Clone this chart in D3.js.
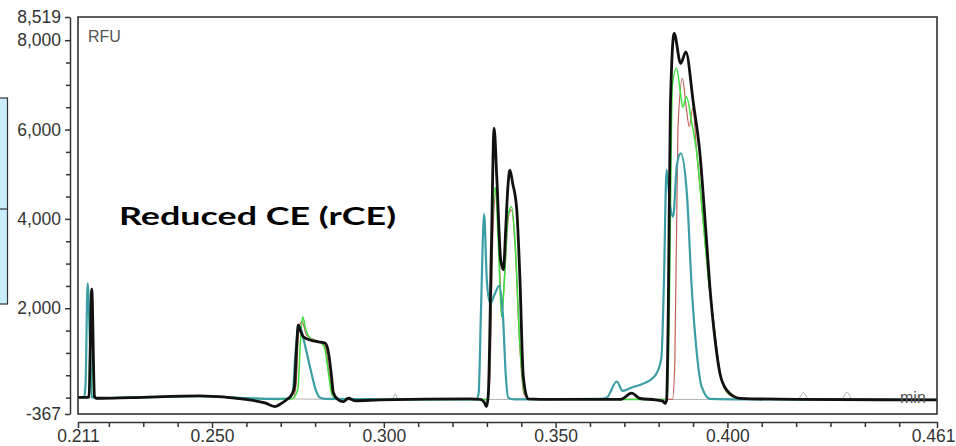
<!DOCTYPE html>
<html>
<head>
<meta charset="utf-8">
<script src="https://cdn.jsdelivr.net/npm/d3@7"></script>
<style>
  html, body { margin: 0; padding: 0; background: #fff; }
  svg { display: block; }
</style>
</head>
<body>
<svg id="chart" width="956" height="446"></svg>
<script>
// ---- data (time in min, signal in RFU) ----
const xDomain = [0.211, 0.461];
const yDomain = [-367, 8519];
const xMajorTicks = [0.211, 0.25, 0.30, 0.35, 0.40, 0.461];
const xMinorTicks = [0.22, 0.23, 0.24, 0.26, 0.27, 0.28, 0.29, 0.31, 0.32, 0.33, 0.34, 0.36, 0.37, 0.38, 0.39, 0.41, 0.42, 0.43, 0.44, 0.45];
const yMajorTicks = [8519, 8000, 6000, 4000, 2000, -367];
const yMinorTicks = [7500, 7000, 6500, 5500, 5000, 4500, 3500, 3000, 2500, 1500, 1000, 500, 0];
const xLabels = ["0.211", "0.250", "0.300", "0.350", "0.400", "0.461"];
const yLabels = ["8,519", "8,000", "6,000", "4,000", "2,000", "-367"];

const graySeries = [
  [0.211, 0], [0.2264, 0], [0.2465, 30], [0.2599, -20], [0.2989, -40], [0.3025, -40], [0.3033, 90], [0.3041, -40],
  [0.4205, -40], [0.4221, 110], [0.4237, -40], [0.4332, -40], [0.4348, 120], [0.4364, -40], [0.461, -50]
];

const redSeries = [
  [0.211, 5], [0.2135, 5], [0.2142, 30], [0.2149, 2350], [0.2157, 40], [0.2163, -10], [0.2264, 5], [0.2465, 35],
  [0.2599, -15], [0.2683, -40], [0.2735, -20], [0.2745, 300], [0.2752, 1500], [0.2762, 1700], [0.2775, 1400],
  [0.2810, 1250], [0.2829, 1150], [0.2842, 500], [0.2852, 50], [0.2865, -30], [0.2989, -40], [0.3280, -40],
  [0.3302, -40], [0.3308, 300], [0.3318, 3800], [0.3327, 4620], [0.3336, 3200], [0.3343, 1810], [0.3352, 2800],
  [0.3364, 4100], [0.3372, 4200], [0.3382, 3400], [0.3396, 1100], [0.3408, 80], [0.3422, -30], [0.3630, -40],
  [0.3840, -40], [0.3847, 800], [0.3856, 6000], [0.3869, 7146], [0.3880, 6500], [0.3889, 6064], [0.3899, 6473],
  [0.3911, 5465], [0.3930, 3900], [0.3948, 2400], [0.3960, 1700], [0.3977, 650], [0.3992, 200], [0.4012, 30],
  [0.4040, -30], [0.461, -50]
];

const greenSeries = [
  [0.211, 5], [0.2135, 5], [0.2141, 30], [0.2148, 2380], [0.2156, 40], [0.2162, -10], [0.2264, 10], [0.2465, 35],
  [0.2599, -10], [0.2683, -40], [0.2735, -20], [0.2750, 200], [0.2757, 1200], [0.2764, 1810], [0.2772, 1550],
  [0.2790, 1300], [0.2809, 1260], [0.2826, 1150], [0.2838, 600], [0.2848, 100], [0.2860, -30], [0.2989, -40],
  [0.3280, -40], [0.3300, -50], [0.3306, 300], [0.3316, 4000], [0.3325, 4700], [0.3333, 3500], [0.3343, 1800],
  [0.3350, 2500], [0.3362, 4100], [0.3372, 4270], [0.3382, 3500], [0.3396, 1200], [0.3410, 100], [0.3425, -30],
  [0.3630, -40], [0.3810, -40], [0.3825, -60], [0.3830, 1500], [0.3840, 7000], [0.3852, 7370], [0.3862, 6900],
  [0.3870, 6500], [0.3881, 6735], [0.3895, 6200], [0.3911, 5465], [0.3930, 3900], [0.3948, 2400], [0.3959, 1740],
  [0.3975, 700], [0.3990, 250], [0.4010, 50], [0.4040, -30], [0.461, -50]
];

const tealSeries = [
  [0.211, 10], [0.2128, 10], [0.2132, 300], [0.2138, 2560], [0.2145, 1200], [0.2150, 20], [0.2160, -10],
  [0.2264, 0], [0.2465, 30], [0.2599, -10], [0.2683, -30], [0.2720, -20], [0.2735, 100], [0.2742, 900],
  [0.2750, 1500], [0.2756, 1590], [0.2766, 1320], [0.2785, 690], [0.2803, 150], [0.2814, 0], [0.2830, -30],
  [0.2989, -40], [0.3270, -40], [0.3276, 100], [0.3283, 2000], [0.3292, 4110], [0.3300, 2600], [0.3310, 2100],
  [0.3322, 2300], [0.3336, 2500], [0.3347, 1800], [0.3355, 500], [0.3362, 0], [0.3380, -40], [0.3630, -30],
  [0.3649, 0], [0.3678, 360], [0.3695, 150], [0.3720, 220], [0.3760, 330], [0.3783, 440], [0.3795, 560],
  [0.3808, 900], [0.3815, 2500], [0.3823, 5100], [0.3833, 4300], [0.3842, 4050], [0.3853, 5200], [0.3864, 5465],
  [0.3882, 4570], [0.3896, 2480], [0.3911, 990], [0.3925, 244], [0.3950, -30], [0.4050, -40], [0.461, -50]
];

const blackSeries = [
  [0.211, 5], [0.2135, 5], [0.2142, 20], [0.2150, 2430], [0.2158, 30], [0.2163, -15], [0.2264, 0], [0.2465, 40],
  [0.2599, -40], [0.2654, -120], [0.2683, -200], [0.2698, -150], [0.2715, -60], [0.2733, 80], [0.2740, 250],
  [0.2746, 1100], [0.2751, 1625], [0.2757, 1500], [0.2766, 1360], [0.2785, 1290], [0.2810, 1250], [0.2829, 1220],
  [0.2838, 1050], [0.2848, 470], [0.2853, 110], [0.2868, -50], [0.2882, -90], [0.2897, -15], [0.2916, -70],
  [0.2989, -50], [0.3251, -30], [0.3280, -40], [0.3292, -100], [0.3299, -200], [0.3304, 50], [0.3313, 3300],
  [0.3321, 6030], [0.3329, 4900], [0.3340, 3100], [0.3348, 2860], [0.3355, 3800], [0.3361, 4700], [0.3367, 5090],
  [0.3375, 4800], [0.3387, 4200], [0.3396, 2700], [0.3406, 470], [0.3420, -30], [0.3455, -40], [0.3690, -40],
  [0.3721, 100], [0.3746, -20], [0.3790, -50], [0.3812, -80], [0.3818, -130], [0.3823, -60], [0.3828, 2000],
  [0.3834, 6500], [0.3845, 8150], [0.3864, 7480], [0.3879, 7740], [0.3901, 6585], [0.3920, 5465], [0.3935, 3975],
  [0.3949, 2480], [0.3964, 1300], [0.3978, 550], [0.3998, 170], [0.4037, -15], [0.4200, -40], [0.461, -50]
];

const seriesList = [
  { data: graySeries,  color: "#b0b0b0", width: 1 },
  { data: redSeries,   color: "#c0605a", width: 1.2 },
  { data: greenSeries, color: "#3ee03e", width: 1.5 },
  { data: tealSeries,  color: "#3a9ea4", width: 2.2 },
  { data: blackSeries, color: "#111111", width: 2.8 }
];

// ---- layout ----
const svg = d3.select("#chart");
const pLeft = 78, pRight = 937, pTop = 17, pBottom = 414;
const x = d3.scaleLinear().domain(xDomain).range([pLeft, pRight]);
const y = d3.scaleLinear().domain(yDomain).range([pBottom, pTop]);

const axisColor = "#333";
const labelFont = "'Liberation Sans', Arial, sans-serif";

// left decorative box
svg.append("rect").attr("x", -1).attr("y", 98).attr("width", 8.5).attr("height", 206)
  .attr("fill", "#c8edfc").attr("stroke", "#333").attr("stroke-width", 1.2);
svg.append("line").attr("x1", 0).attr("x2", 8).attr("y1", 209).attr("y2", 209)
  .attr("stroke", "#333").attr("stroke-width", 1.2);

// y axis (separate line at x=70)
const yAxisG = svg.append("g").attr("transform", "translate(70,0)");
yAxisG.call(d3.axisLeft(y).tickValues(yMajorTicks).tickSize(5).tickSizeOuter(0)
  .tickFormat((d, i) => yLabels[i]));
yAxisG.append("g").call(d3.axisLeft(y).tickValues(yMinorTicks).tickSize(4).tickFormat(""))
  .select(".domain").remove();
yAxisG.selectAll("path, line").attr("stroke", axisColor).attr("stroke-width", 1.5);
yAxisG.selectAll("text").attr("font-family", labelFont).attr("font-size", 17.5)
  .attr("fill", "#333").attr("dx", "-1");

// x axis (separate line at y=422)
const xAxisG = svg.append("g").attr("transform", "translate(0,422)");
xAxisG.call(d3.axisBottom(x).tickValues(xMajorTicks).tickSize(6).tickSizeOuter(0)
  .tickFormat((d, i) => xLabels[i]));
xAxisG.append("g").call(d3.axisBottom(x).tickValues(xMinorTicks).tickSize(5).tickFormat(""))
  .select(".domain").remove();
xAxisG.selectAll("path, line").attr("stroke", axisColor).attr("stroke-width", 1.5);
xAxisG.selectAll("text").attr("font-family", labelFont).attr("font-size", 17.5)
  .attr("fill", "#333").attr("dy", "0.6em");
// keep the last label inside the canvas
xAxisG.selectAll(".tick text").filter((d, i) => i === xMajorTicks.length - 1)
  .attr("text-anchor", "end").attr("x", 956 - x(xMajorTicks[xMajorTicks.length - 1]) - 1);

// clip
svg.append("clipPath").attr("id", "plotclip").append("rect")
  .attr("x", pLeft).attr("y", pTop).attr("width", pRight - pLeft).attr("height", pBottom - pTop);

// lines
const line = d3.line().x(d => x(d[0])).y(d => y(d[1])).curve(d3.curveMonotoneX);
const linesG = svg.append("g").attr("clip-path", "url(#plotclip)");
seriesList.forEach(s => {
  linesG.append("path").datum(s.data).attr("d", line)
    .attr("fill", "none").attr("stroke", s.color).attr("stroke-width", s.width)
    .attr("stroke-linejoin", "round");
});

// frame
svg.append("rect").attr("x", pLeft).attr("y", pTop).attr("width", pRight - pLeft).attr("height", pBottom - pTop)
  .attr("fill", "none").attr("stroke", axisColor).attr("stroke-width", 1.6);

// texts
svg.append("text").attr("x", 88).attr("y", 42).text("RFU")
  .attr("font-family", labelFont).attr("font-size", 16).attr("fill", "#555");
svg.append("text").attr("x", 900).attr("y", 403).text("min")
  .attr("font-family", labelFont).attr("font-size", 16).attr("fill", "#555");
svg.append("text").attr("x", 119).attr("y", 225).text("Reduced CE (rCE)")
  .attr("font-family", "Lato, 'Open Sans', sans-serif").attr("font-weight", 700)
  .attr("font-size", 25).attr("fill", "#000")
  .attr("textLength", 277).attr("lengthAdjust", "spacingAndGlyphs");
</script>
</body>
</html>
